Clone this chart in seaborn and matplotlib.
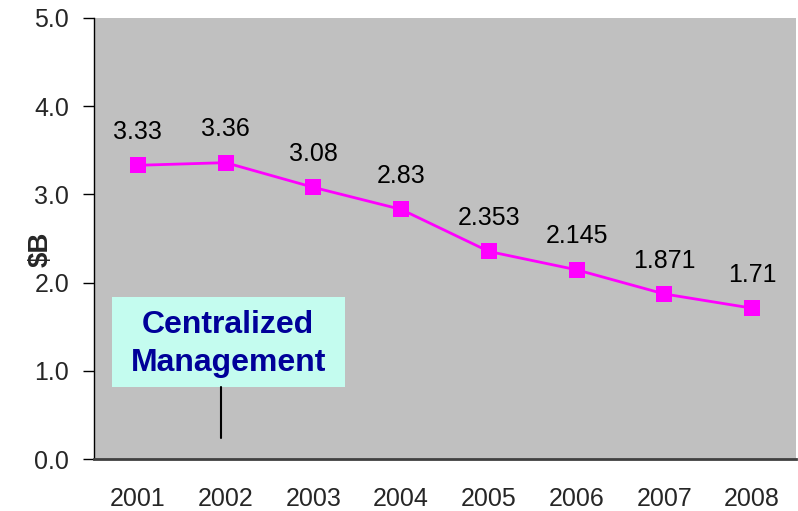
import matplotlib
matplotlib.use("Agg")
import matplotlib.pyplot as plt
import seaborn as sns
import pandas as pd
from matplotlib.patches import Rectangle
from matplotlib.ticker import FixedLocator

# --- data ---
years = ["2001", "2002", "2003", "2004", "2005", "2006", "2007", "2008"]
spend = [3.33, 3.36, 3.08, 2.83, 2.353, 2.145, 1.871, 1.71]
value_labels = ["3.33", "3.36", "3.08", "2.83", "2.353", "2.145", "1.871", "1.71"]
y_ticks = [0.0, 1.0, 2.0, 3.0, 4.0, 5.0]

note_text = "Centralized\nManagement"

df = pd.DataFrame({"pos": range(len(years)), "spend": spend})

sns.set_theme(style="white")
plt.rcParams["font.family"] = ["Liberation Sans", "DejaVu Sans"]

fig = plt.figure(figsize=(7.98, 5.11), dpi=100)
ax = fig.add_axes([94 / 798, 52 / 511, 702 / 798, 441 / 511])
ax.set_facecolor("#C0C0C0")

sns.lineplot(data=df, x="pos", y="spend", ax=ax, color="#FF00FF", linewidth=2,
             marker="s", markersize=11, markeredgewidth=0, markerfacecolor="#FF00FF")

for xi, yi, lab in zip(df["pos"], df["spend"], value_labels):
    ax.annotate(lab, (xi, yi), xytext=(0, 24), textcoords="offset points",
                ha="center", va="center", fontsize=18, color="black")

# annotation box with pointer line
ax.add_patch(Rectangle((-0.296, 0.816), 2.656, 1.021, facecolor="#C4FCEF",
                       edgecolor="none", zorder=3))
ax.text(1.03, 1.305, note_text, ha="center", va="center", fontsize=23,
        fontweight="bold", color="#000099", linespacing=1.32, zorder=4)
ax.plot([0.946, 0.946], [0.816, 0.238], color="black", linewidth=1.5, zorder=4)

ax.set_xlim(-0.5, len(years) - 0.5)
ax.set_ylim(0, 5)
ax.set_yticks(y_ticks)
ax.set_yticklabels([f"{t:.1f}" for t in y_ticks], fontsize=18)
ax.set_xticks(range(len(years)))
ax.set_xticklabels(years, fontsize=18)
ax.xaxis.set_minor_locator(FixedLocator([i + 0.5 for i in range(len(years))]))

ax.tick_params(axis="x", which="major", length=0, pad=20)
ax.tick_params(axis="x", which="minor", length=16, width=1, color="black",
               direction="inout")
ax.tick_params(axis="y", which="major", length=8, width=1, color="black",
               direction="out", left=True, pad=10)

for side in ["top", "right"]:
    ax.spines[side].set_visible(False)
ax.spines["left"].set_color("black")
ax.spines["left"].set_linewidth(1)
ax.spines["bottom"].set_color("#404040")
ax.spines["bottom"].set_linewidth(2)

ax.set_xlabel("")
ax.set_ylabel("$B", fontsize=20, fontweight="bold")
ax.yaxis.set_label_coords(-0.058, 0.475)

fig.savefig("out.png", dpi=100)
